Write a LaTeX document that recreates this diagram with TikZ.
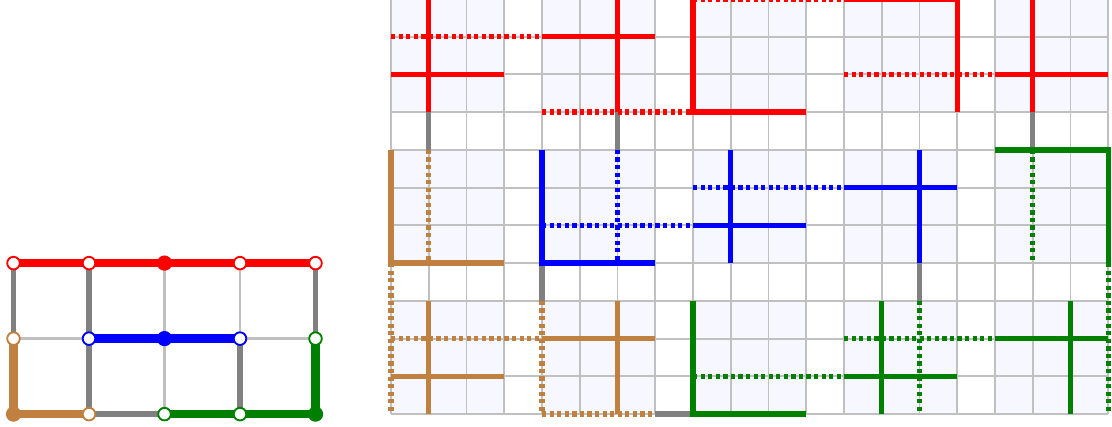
\documentclass[tikz,border=0pt]{standalone}
\definecolor{cred}{RGB}{255,0,0}
\definecolor{cblue}{RGB}{0,0,255}
\definecolor{cgreen}{RGB}{0,128,0}
\definecolor{cbrown}{RGB}{192,128,64}
\definecolor{cgray}{RGB}{128,128,128}
\definecolor{clight}{RGB}{192,192,192}
\definecolor{cfill}{RGB}{247,248,255}
\pgfdeclarelayer{bg}
\pgfsetlayers{bg,main}
\begin{document}
\begin{tikzpicture}[x=1cm,y=1cm,
  gnode/.style={circle, draw=#1, fill=white, line width=1.4pt, minimum size=9.5pt, inner sep=0pt},
  groot/.style={circle, fill=#1, minimum size=11.5pt, inner sep=0pt},
  cedge/.style={draw=#1, line width=6.3pt},
  grayedge/.style={draw=cgray, line width=4pt},
  lightedge/.style={draw=clight, line width=1.8pt},
  qsolid/.style={draw=#1, line width=4pt, line join=miter},
  qdot/.style={draw=#1, line width=4pt, dash pattern=on 3.2pt off 2.5pt},
  qgap/.style={draw=cgray, line width=4pt},
  gridline/.style={draw=clight, line width=1.4pt},
  cellfill/.style={fill=cfill}
]
\useasboundingbox (-10.358,-0.341) rectangle (19.099,10.970);

% ---------- left graph ----------
\node[gnode=cred]   (n00) at (-10,4) {};
\node[gnode=cred]   (n10) at (-8,4) {};
\node[groot=cred]   (n20) at (-6,4) {};
\node[gnode=cred]   (n30) at (-4,4) {};
\node[gnode=cred]   (n40) at (-2,4) {};
\node[gnode=cbrown] (n01) at (-10,2) {};
\node[gnode=cblue]  (n11) at (-8,2) {};
\node[groot=cblue]  (n21) at (-6,2) {};
\node[gnode=cblue]  (n31) at (-4,2) {};
\node[gnode=cgreen] (n41) at (-2,2) {};
\node[groot=cbrown] (n02) at (-10,0) {};
\node[gnode=cbrown] (n12) at (-8,0) {};
\node[gnode=cgreen] (n22) at (-6,0) {};
\node[gnode=cgreen] (n32) at (-4,0) {};
\node[groot=cgreen] (n42) at (-2,0) {};

\begin{pgfonlayer}{bg}
  % light edges
  \draw[lightedge] (n01.center) -- (n11.center);
  \draw[lightedge] (n31.center) -- (n41.center);
  \draw[lightedge] (n20.center) -- (n21.center);
  \draw[lightedge] (n30.center) -- (n31.center);
  \draw[lightedge] (n21.center) -- (n22.center);
  % gray edges
  \draw[grayedge] (n00.center) -- (n01.center);
  \draw[grayedge] (n10.center) -- (n11.center);
  \draw[grayedge] (n40.center) -- (n41.center);
  \draw[grayedge] (n11.center) -- (n12.center);
  \draw[grayedge] (n31.center) -- (n32.center);
  \draw[grayedge] (n12.center) -- (n22.center);
  % coloured edges
  \draw[cedge=cred] (n00.center) -- (n10.center);
  \draw[cedge=cred] (n10.center) -- (n20.center);
  \draw[cedge=cred] (n20.center) -- (n30.center);
  \draw[cedge=cred] (n30.center) -- (n40.center);
  \draw[cedge=cblue] (n11.center) -- (n21.center);
  \draw[cedge=cblue] (n21.center) -- (n31.center);
  \draw[cedge=cbrown] (n01.center) -- (n02.center);
  \draw[cedge=cbrown] (n02.center) -- (n12.center);
  \draw[cedge=cgreen] (n22.center) -- (n32.center);
  \draw[cedge=cgreen] (n32.center) -- (n42.center);
  \draw[cedge=cgreen] (n41.center) -- (n42.center);
\end{pgfonlayer}

% ---------- right grid ----------
\foreach \i in {0,...,4}
  \foreach \j in {0,4,8}
    \fill[cellfill] (4*\i,\j) rectangle ++(3,3);
\foreach \x in {0,...,19} \draw[gridline] (\x,0) -- (\x,11);
\foreach \y in {0,...,11} \draw[gridline] (0,\y) -- (19,\y);

% gray couplers in gaps
\draw[qgap] (1,8) -- (1,7);
\draw[qgap] (6,8) -- (6,7);
\draw[qgap] (17,8) -- (17,7);
\draw[qgap] (4,4) -- (4,3);
\draw[qgap] (14,4) -- (14,3);
\draw[qgap] (7,0) -- (8,0);

% dotted chains
\draw[qdot=cred] (0,10) -- (4,10);
\draw[qdot=cred] (4,8) -- (8,8);
\draw[qdot=cred] (8,11) -- (12,11);
\draw[qdot=cred] (12,9) -- (16,9);
\draw[qdot=cblue] (4,5) -- (8,5);
\draw[qdot=cblue] (8,6) -- (12,6);
\draw[qdot=cblue] (6,7) -- (6,4);
\draw[qdot=cbrown] (1,7) -- (1,4);
\draw[qdot=cbrown] (0,4) -- (0,0);
\draw[qdot=cbrown] (0,2) -- (4,2);
\draw[qdot=cbrown] (4,3) -- (4,0);
\draw[qdot=cbrown] (4,0) -- (7,0);
\draw[qdot=cgreen] (17,7) -- (17,4);
\draw[qdot=cgreen] (19,4) -- (19,0);
\draw[qdot=cgreen] (8,1) -- (12,1);
\draw[qdot=cgreen] (12,2) -- (16,2);
\draw[qdot=cgreen] (14,3) -- (14,0);

% solid qubits
\draw[qsolid=cred] (1,8) -- (1,11);
\draw[qsolid=cred] (0,9) -- (3,9);
\draw[qsolid=cred] (6,8) -- (6,11);
\draw[qsolid=cred] (4,10) -- (7,10);
\draw[qsolid=cred] (8,11) -- (8,8) -- (11,8);
\draw[qsolid=cred] (12,11) -- (15,11) -- (15,8);
\draw[qsolid=cred] (17,8) -- (17,11);
\draw[qsolid=cred] (16,9) -- (19,9);

\draw[qsolid=cbrown] (0,7) -- (0,4) -- (3,4);
\draw[qsolid=cbrown] (1,0) -- (1,3);
\draw[qsolid=cbrown] (0,1) -- (3,1);
\draw[qsolid=cbrown] (6,0) -- (6,3);
\draw[qsolid=cbrown] (4,2) -- (7,2);

\draw[qsolid=cblue] (4,7) -- (4,4) -- (7,4);
\draw[qsolid=cblue] (9,4) -- (9,7);
\draw[qsolid=cblue] (8,5) -- (11,5);
\draw[qsolid=cblue] (14,4) -- (14,7);
\draw[qsolid=cblue] (12,6) -- (15,6);

\draw[qsolid=cgreen] (16,7) -- (19,7) -- (19,4);
\draw[qsolid=cgreen] (8,3) -- (8,0) -- (11,0);
\draw[qsolid=cgreen] (13,0) -- (13,3);
\draw[qsolid=cgreen] (12,1) -- (15,1);
\draw[qsolid=cgreen] (18,0) -- (18,3);
\draw[qsolid=cgreen] (16,2) -- (19,2);
\end{tikzpicture}
\end{document}
